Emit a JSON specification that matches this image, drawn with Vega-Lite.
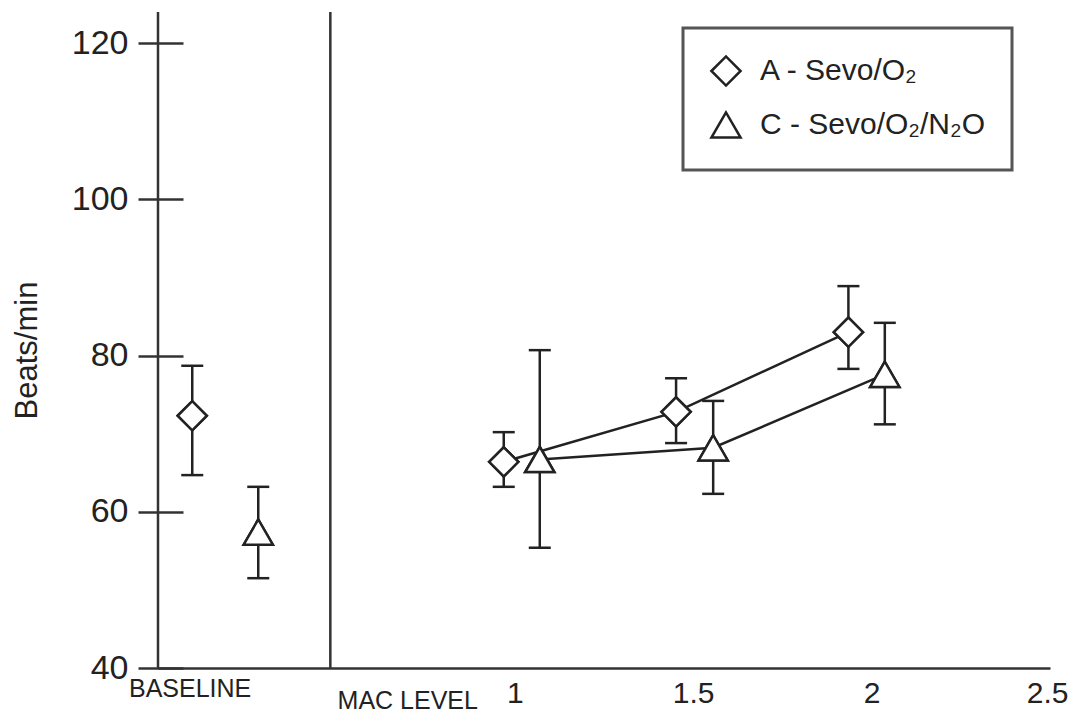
{
  "$schema": "https://vega.github.io/schema/vega-lite/v6.json",
  "width": 892,
  "height": 656,
  "autosize": "none",
  "padding": {"left": 158, "top": 12, "right": 18, "bottom": 49},
  "background": "white",
  "config": {
    "view": {"stroke": null},
    "font": "Liberation Sans",
    "legend": {"strokeWidth": 3}
  },
  "datasets": {
    "pts": [
      {"g": "A - Sevo/O₂", "phase": "baseline", "x": 0.096, "y": 72.3, "lo": 64.7, "hi": 78.7},
      {"g": "C - Sevo/O₂/N₂O", "phase": "baseline", "x": 0.281, "y": 57.4, "lo": 51.5, "hi": 63.2},
      {"g": "A - Sevo/O₂", "phase": "mac", "x": 0.969, "y": 66.4, "lo": 63.2, "hi": 70.2},
      {"g": "C - Sevo/O₂/N₂O", "phase": "mac", "x": 1.07, "y": 66.7, "lo": 55.4, "hi": 80.7},
      {"g": "A - Sevo/O₂", "phase": "mac", "x": 1.452, "y": 72.8, "lo": 68.8, "hi": 77.1},
      {"g": "C - Sevo/O₂/N₂O", "phase": "mac", "x": 1.556, "y": 68.2, "lo": 62.3, "hi": 74.2},
      {"g": "A - Sevo/O₂", "phase": "mac", "x": 1.935, "y": 83.0, "lo": 78.3, "hi": 88.9},
      {"g": "C - Sevo/O₂/N₂O", "phase": "mac", "x": 2.037, "y": 77.6, "lo": 71.2, "hi": 84.2}
    ],
    "cats": [
      {"x": 0.09, "label": "BASELINE"},
      {"x": 0.70, "label": "MAC LEVEL"}
    ]
  },
  "layer": [
    {
      "data": {"name": "pts"},
      "mark": {"type": "point", "filled": false, "color": "#222", "strokeWidth": 2.5, "opacity": 1, "size": 850},
      "encoding": {
        "x": {
          "field": "x", "type": "quantitative",
          "scale": {"domain": [0, 2.5], "nice": false, "zero": false},
          "axis": {
            "title": null, "values": [1, 1.5, 2, 2.5], "format": "~g", "ticks": false, "grid": false,
            "domainColor": "#333", "domainWidth": 2.5,
            "labelPadding": 10, "labelFontSize": 30, "labelColor": "#222",
            "labelFont": "Liberation Sans", "labelOverlap": false, "labelFlush": true, "labelFlushOffset": 18, "labelBound": false
          }
        },
        "y": {
          "field": "y", "type": "quantitative",
          "scale": {"domain": [40, 124], "nice": false, "zero": false},
          "axis": {
            "title": "Beats/min", "values": [40, 60, 80, 100, 120], "grid": false,
            "domain": false, "offset": -25, "tickSize": 45, "tickWidth": 2.5, "tickColor": "#333",
            "labelPadding": 10, "labelFontSize": 34, "labelColor": "#222", "labelFont": "Liberation Sans",
            "titleFont": "Liberation Sans", "titleFontSize": 31, "titleFontWeight": "normal", "titleColor": "#222",
            "titleAngle": -90, "titleBaseline": "bottom", "titleAlign": "center",
            "titleX": -140, "titleY": 338
          }
        },
        "shape": {
          "field": "g", "type": "nominal",
          "scale": {"domain": ["A - Sevo/O₂", "C - Sevo/O₂/N₂O"], "range": ["diamond", "triangle-up"]},
          "legend": {
            "title": null, "orient": "none", "legendX": 525, "legendY": 16,
            "strokeColor": "#555", "padding": 27, "fillColor": "white",
            "symbolSize": 850, "symbolStrokeWidth": 2.5, "symbolStrokeColor": "#222",
            "labelFontSize": 30, "labelFont": "Liberation Sans", "labelColor": "#222", "labelLimit": 600,
            "labelOffset": 18, "rowPadding": 16,
            "encode": {
              "symbols": {
                "stroke": {"value": "#222"},
                "fill": {"value": "white"},
                "strokeWidth": {"value": 2.5},
                "opacity": {"value": 1}
              }
            }
          }
        }
      }
    },
    {
      "data": {"values": [{}]},
      "mark": {"type": "rule", "stroke": "#333", "strokeWidth": 2.5},
      "encoding": {
        "x": {"datum": 0, "type": "quantitative"}
      }
    },
    {
      "data": {"values": [{}]},
      "mark": {"type": "rule", "stroke": "#333", "strokeWidth": 2.5},
      "encoding": {
        "x": {"datum": 0.483, "type": "quantitative"}
      }
    },
    {
      "data": {"name": "pts"},
      "transform": [{"filter": "datum.phase == 'mac'"}],
      "mark": {"type": "line", "stroke": "#222", "strokeWidth": 2.5},
      "encoding": {
        "x": {"field": "x", "type": "quantitative"},
        "y": {"field": "y", "type": "quantitative"},
        "detail": {"field": "g", "type": "nominal"}
      }
    },
    {
      "data": {"name": "pts"},
      "mark": {"type": "rule", "stroke": "#222", "strokeWidth": 2.5},
      "encoding": {
        "x": {"field": "x", "type": "quantitative"},
        "y": {"field": "lo", "type": "quantitative"},
        "y2": {"field": "hi"}
      }
    },
    {
      "data": {"name": "pts"},
      "mark": {"type": "tick", "orient": "horizontal", "size": 22, "thickness": 2.5, "color": "#222", "opacity": 1},
      "encoding": {
        "x": {"field": "x", "type": "quantitative"},
        "y": {"field": "lo", "type": "quantitative"}
      }
    },
    {
      "data": {"name": "pts"},
      "mark": {"type": "tick", "orient": "horizontal", "size": 22, "thickness": 2.5, "color": "#222", "opacity": 1},
      "encoding": {
        "x": {"field": "x", "type": "quantitative"},
        "y": {"field": "hi", "type": "quantitative"}
      }
    },
    {
      "data": {"name": "pts"},
      "mark": {"type": "point", "filled": false, "fill": "white", "color": "#222", "stroke": "#222", "strokeWidth": 2.5, "opacity": 1, "size": 850},
      "encoding": {
        "x": {"field": "x", "type": "quantitative"},
        "y": {"field": "y", "type": "quantitative"},
        "shape": {"field": "g", "type": "nominal"}
      }
    },
    {
      "data": {"name": "cats"},
      "transform": [{"filter": "datum.label == 'BASELINE'"}],
      "mark": {"type": "text", "font": "Liberation Sans", "fontSize": 25, "color": "#222", "dy": 21, "align": "center", "baseline": "middle"},
      "encoding": {
        "x": {"field": "x", "type": "quantitative"},
        "y": {"datum": 40, "type": "quantitative"},
        "text": {"field": "label"}
      }
    },
    {
      "data": {"name": "cats"},
      "transform": [{"filter": "datum.label == 'MAC LEVEL'"}],
      "mark": {"type": "text", "font": "Liberation Sans", "fontSize": 25, "color": "#222", "dy": 33, "align": "center", "baseline": "middle"},
      "encoding": {
        "x": {"field": "x", "type": "quantitative"},
        "y": {"datum": 40, "type": "quantitative"},
        "text": {"field": "label"}
      }
    }
  ]
}
